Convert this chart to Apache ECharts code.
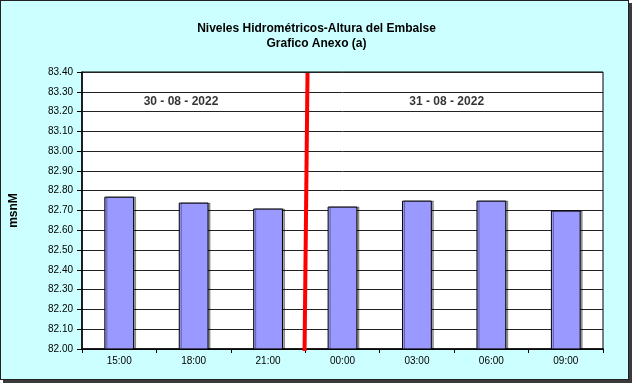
<!DOCTYPE html>
<html><head><meta charset="utf-8">
<script src="https://cdn.jsdelivr.net/npm/echarts@6/dist/echarts.min.js"></script>
<style>
html,body{margin:0;padding:0;background:#fff;}
#frame{position:absolute;left:0;top:0;width:627px;height:378px;background:#CCFFFF;border:1px solid #222;box-shadow:3px 3px 0 #3a3a3a;}
#c{position:absolute;left:0;top:0;width:633px;height:385px;}
</style></head>
<body><div id="frame"></div><div id="c"></div>
<script>
const categories = ['15:00','18:00','21:00','00:00','03:00','06:00','09:00'];
const levels = [82.77, 82.74, 82.71, 82.72, 82.75, 82.75, 82.70];
const yMin = 82.0, yMax = 83.4, yStep = 0.1;
const dayLabels = ['30 - 08 - 2022', '31 - 08 - 2022'];
const dayLabelPos = [[1.33, 83.25], [4.9, 83.25]];
const dayBreak = 3; // boundary between 21:00 and 00:00

const chart = echarts.init(document.getElementById('c'), null, {renderer:'canvas'});
const font = 'Arial, "Liberation Sans", sans-serif';
chart.setOption({
  backgroundColor: 'transparent',
  animation: false,
  title: {
    text: 'Niveles Hidrométricos-Altura del Embalse\nGrafico Anexo (a)',
    left: 'center', top: 16,
    textStyle: {fontFamily: font, fontSize: 12, fontWeight: 'bold', color: '#000', lineHeight: 15}
  },
  grid: {left: 78, right: 30, top: 72, bottom: 36, show: true, backgroundColor: '#fff', borderColor: '#000', borderWidth: 1},
  xAxis: [{
    type: 'category', data: categories,
    axisLine: {lineStyle: {color: '#000', width: 1.5}},
    axisTick: {show: true, length: 4, lineStyle: {color: '#000'}},
    axisLabel: {fontFamily: font, fontSize: 10, color: '#000', margin: 7}
  }, {
    type: 'value', min: 0, max: 7, show: false
  }],
  yAxis: {
    type: 'value', min: yMin, max: yMax, interval: yStep,
    name: 'msnM', nameLocation: 'middle', nameGap: 62, nameRotate: 90,
    nameTextStyle: {fontFamily: font, fontSize: 12, fontWeight: 'bold', color: '#000'},
    axisLine: {show: true, lineStyle: {color: '#000', width: 1.5}},
    axisTick: {show: true, length: 5, lineStyle: {color: '#000'}},
    axisLabel: {fontFamily: font, fontSize: 10, color: '#000', margin: 9, formatter: v => v.toFixed(2)},
    splitLine: {lineStyle: {color: '#222', width: 1}}
  },
  series: [{
    type: 'bar', data: levels, barWidth: '40%',
    itemStyle: {color: '#9999FF', borderColor: '#000', borderWidth: 1,
      shadowColor: 'rgba(0,0,0,0.35)', shadowOffsetX: 2, shadowOffsetY: 0, shadowBlur: 0}
  }, {
    type: 'line', xAxisIndex: 1, data: [[dayBreak + 0.03, yMax - 0.005], [dayBreak - 0.01, yMin - 0.015]],
    symbol: 'none', lineStyle: {color: '#FF0000', width: 4}, z: 5
  }, {
    type: 'scatter', xAxisIndex: 1, symbolSize: 1, itemStyle: {color: 'transparent'},
    data: dayLabelPos.map((p, i) => ({value: p, name: dayLabels[i]})),
    label: {show: true, position: 'inside', formatter: p => p.name,
      fontFamily: font, fontSize: 12, fontWeight: 'bold', color: '#000',
      textBorderWidth: 0, textBorderColor: 'transparent'}
  }]
});
</script></body></html>
